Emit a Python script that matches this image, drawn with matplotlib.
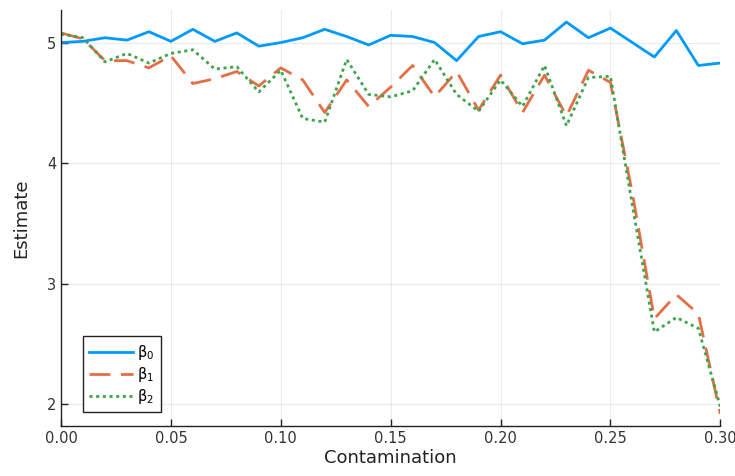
import numpy as np
import matplotlib
matplotlib.use("Agg")
import matplotlib.pyplot as plt

# contamination levels 0.00 .. 0.30
contamination = [0.00, 0.01, 0.02, 0.03, 0.04, 0.05, 0.06, 0.07, 0.08, 0.09, 0.10,
                 0.11, 0.12, 0.13, 0.14, 0.15, 0.16, 0.17, 0.18, 0.19, 0.20,
                 0.21, 0.22, 0.23, 0.24, 0.25, 0.26, 0.27, 0.28, 0.29, 0.30]

beta0 = [5.00, 5.01, 5.04, 5.02, 5.09, 5.01, 5.11, 5.01, 5.08, 4.97, 5.00,
         5.04, 5.11, 5.05, 4.98, 5.06, 5.05, 5.00, 4.85, 5.05, 5.09,
         4.99, 5.02, 5.17, 5.04, 5.12, 5.00, 4.88, 5.10, 4.81, 4.83]

beta1 = [5.08, 5.03, 4.85, 4.85, 4.79, 4.89, 4.66, 4.70, 4.76, 4.64, 4.79,
         4.69, 4.42, 4.69, 4.47, 4.63, 4.81, 4.55, 4.76, 4.44, 4.73,
         4.42, 4.73, 4.39, 4.77, 4.67, 3.75, 2.71, 2.91, 2.75, 1.92]

beta2 = [5.07, 5.04, 4.84, 4.91, 4.83, 4.91, 4.94, 4.78, 4.80, 4.59, 4.77,
         4.37, 4.34, 4.86, 4.57, 4.55, 4.60, 4.86, 4.57, 4.43, 4.69,
         4.47, 4.81, 4.31, 4.71, 4.72, 3.65, 2.60, 2.72, 2.63, 1.98]

fig = plt.figure(figsize=(7.35, 4.76), dpi=100)
ax = fig.add_axes([0.083, 0.105, 0.897, 0.874])

ax.plot(contamination, beta0, color="#009AFA", lw=2, label=r"$\mathregular{\beta_0}$")
ax.plot(contamination, beta1, color="#E36F47", lw=2, linestyle=(0, (7.5, 3.8)),
        label=r"$\mathregular{\beta_1}$")
ax.plot(contamination, beta2, color="#3EA44E", lw=2, linestyle=(0, (1.1, 1.3)),
        label=r"$\mathregular{\beta_2}$")

ax.set_xlim(0, 0.30)
ax.set_ylim(1.82, 5.27)
ax.set_xticks([0.00, 0.05, 0.10, 0.15, 0.20, 0.25, 0.30])
ax.set_xticklabels(["0.00", "0.05", "0.10", "0.15", "0.20", "0.25", "0.30"])
ax.set_yticks([2, 3, 4, 5])
ax.grid(True, color="black", alpha=0.08, lw=0.8)
ax.set_axisbelow(True)

for s in ["top", "right"]:
    ax.spines[s].set_visible(False)
for s in ["left", "bottom"]:
    ax.spines[s].set_color("#222222")
    ax.spines[s].set_linewidth(1)
ax.tick_params(direction="in", length=5, width=1, colors="#222222",
               labelsize=10.5, labelcolor="#333333")

ax.set_xlabel("Contamination", fontsize=13, color="#222222", labelpad=2)
ax.set_ylabel("Estimate", fontsize=13, color="#222222", labelpad=12)

leg = ax.legend(loc="lower left", bbox_to_anchor=(0.033, 0.033), fontsize=10.5,
                fancybox=False, framealpha=1, edgecolor="#222222",
                handlelength=3.0, handletextpad=0.3, labelspacing=0.2,
                borderpad=0.45, borderaxespad=0)
leg.get_frame().set_linewidth(1)

fig.savefig("out.png", dpi=100)
